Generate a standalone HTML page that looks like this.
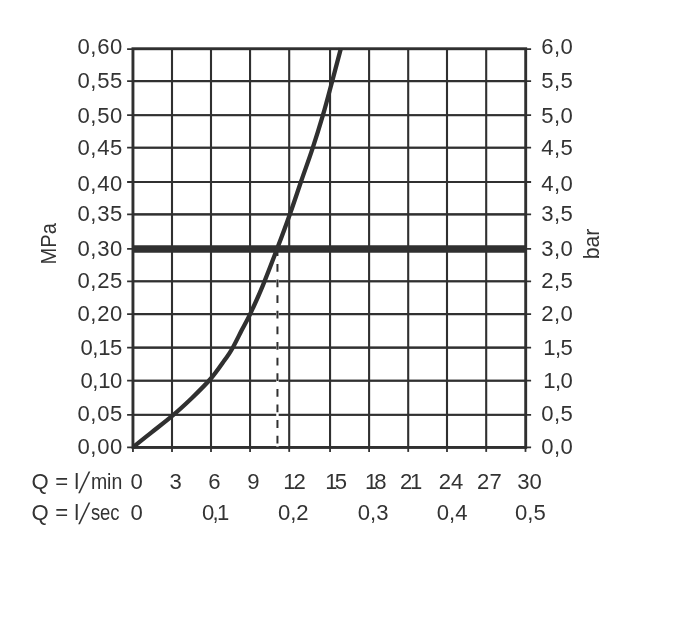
<!DOCTYPE html>
<html lang="de">
<head>
<meta charset="utf-8">
<title>Durchflussdiagramm</title>
<style>
html,body{margin:0;padding:0;background:#fff;}
body{width:693px;height:630px;overflow:hidden;}
svg{display:block;}
text{font-family:"Liberation Sans",Arial,Helvetica,sans-serif;font-size:22.1px;fill:#333333;}
</style>
</head>
<body>
<svg width="693" height="630" viewBox="0 0 693 630">
<rect x="0" y="0" width="693" height="630" fill="#ffffff"/>
<g stroke="#303030" fill="none" stroke-linecap="butt">
<line x1="172.00" y1="48.75" x2="172.00" y2="447.45" stroke-width="2.1"/>
<line x1="172.00" y1="447.45" x2="172.00" y2="451.9" stroke-width="1.8"/>
<line x1="211.00" y1="48.75" x2="211.00" y2="447.45" stroke-width="2.1"/>
<line x1="211.00" y1="447.45" x2="211.00" y2="451.9" stroke-width="1.8"/>
<line x1="250.05" y1="48.75" x2="250.05" y2="447.45" stroke-width="2.1"/>
<line x1="250.05" y1="447.45" x2="250.05" y2="451.9" stroke-width="1.8"/>
<line x1="289.20" y1="48.75" x2="289.20" y2="447.45" stroke-width="2.1"/>
<line x1="289.20" y1="447.45" x2="289.20" y2="451.9" stroke-width="1.8"/>
<line x1="330.05" y1="48.75" x2="330.05" y2="447.45" stroke-width="2.1"/>
<line x1="330.05" y1="447.45" x2="330.05" y2="451.9" stroke-width="1.8"/>
<line x1="369.10" y1="48.75" x2="369.10" y2="447.45" stroke-width="2.1"/>
<line x1="369.10" y1="447.45" x2="369.10" y2="451.9" stroke-width="1.8"/>
<line x1="408.20" y1="48.75" x2="408.20" y2="447.45" stroke-width="2.1"/>
<line x1="408.20" y1="447.45" x2="408.20" y2="451.9" stroke-width="1.8"/>
<line x1="447.00" y1="48.75" x2="447.00" y2="447.45" stroke-width="2.1"/>
<line x1="447.00" y1="447.45" x2="447.00" y2="451.9" stroke-width="1.8"/>
<line x1="486.20" y1="48.75" x2="486.20" y2="447.45" stroke-width="2.1"/>
<line x1="486.20" y1="447.45" x2="486.20" y2="451.9" stroke-width="1.8"/>
<line x1="132.95" y1="81.15" x2="525.70" y2="81.15" stroke-width="2.1"/>
<line x1="127.1" y1="81.15" x2="531.1" y2="81.15" stroke-width="1.8"/>
<line x1="132.95" y1="115.20" x2="525.70" y2="115.20" stroke-width="2.1"/>
<line x1="127.1" y1="115.20" x2="531.1" y2="115.20" stroke-width="1.8"/>
<line x1="132.95" y1="147.70" x2="525.70" y2="147.70" stroke-width="2.1"/>
<line x1="127.1" y1="147.70" x2="531.1" y2="147.70" stroke-width="1.8"/>
<line x1="132.95" y1="182.00" x2="525.70" y2="182.00" stroke-width="2.1"/>
<line x1="127.1" y1="182.00" x2="531.1" y2="182.00" stroke-width="1.8"/>
<line x1="132.95" y1="214.40" x2="525.70" y2="214.40" stroke-width="2.1"/>
<line x1="127.1" y1="214.40" x2="531.1" y2="214.40" stroke-width="1.8"/>
<line x1="132.95" y1="281.30" x2="525.70" y2="281.30" stroke-width="2.1"/>
<line x1="127.1" y1="281.30" x2="531.1" y2="281.30" stroke-width="1.8"/>
<line x1="132.95" y1="314.10" x2="525.70" y2="314.10" stroke-width="2.1"/>
<line x1="127.1" y1="314.10" x2="531.1" y2="314.10" stroke-width="1.8"/>
<line x1="132.95" y1="347.65" x2="525.70" y2="347.65" stroke-width="2.1"/>
<line x1="127.1" y1="347.65" x2="531.1" y2="347.65" stroke-width="1.8"/>
<line x1="132.95" y1="380.70" x2="525.70" y2="380.70" stroke-width="2.1"/>
<line x1="127.1" y1="380.70" x2="531.1" y2="380.70" stroke-width="1.8"/>
<line x1="132.95" y1="414.80" x2="525.70" y2="414.80" stroke-width="2.1"/>
<line x1="127.1" y1="414.80" x2="531.1" y2="414.80" stroke-width="1.8"/>
<rect x="132.95" y="48.75" width="392.75" height="398.70" stroke-width="2.9"/>
<line x1="127.1" y1="49.05" x2="531.1" y2="49.05" stroke-width="1.8"/>
<line x1="127.1" y1="447.35" x2="531.1" y2="447.35" stroke-width="1.8"/>
<line x1="132.95" y1="447.45" x2="132.95" y2="451.9" stroke-width="1.8"/>
<line x1="525.50" y1="447.45" x2="525.50" y2="451.9" stroke-width="1.8"/>
<line x1="127.1" y1="248.90" x2="531.1" y2="248.90" stroke-width="1.8"/>
<line x1="132.95" y1="248.90" x2="525.70" y2="248.90" stroke-width="7.5"/>
</g>
<line x1="277.45" y1="253" x2="277.45" y2="446.6" stroke="#ffffff" stroke-width="2.4"/>
<line x1="277.45" y1="248.3" x2="277.45" y2="446" stroke="#303030" stroke-width="2" stroke-dasharray="7.8 7.82"/>
<path d="M133.1 447.1 C136.1 444.7 144.8 437.8 151.3 432.6 C157.8 427.4 165.5 421.6 172.2 415.9 C178.9 410.2 185.2 404.4 191.7 398.2 C198.1 392.0 205.5 384.8 210.9 378.5 C216.3 372.2 220.9 365.3 224.3 360.5 C227.8 355.7 228.8 354.7 231.6 349.8 C234.4 344.9 238.2 337.1 241.3 331.0 C244.5 324.9 246.9 320.9 250.5 313.3 C254.1 305.7 258.4 296.4 262.8 285.6 C267.2 274.8 272.7 260.4 277.2 248.6 C281.7 236.8 285.7 226.1 289.6 215.0 C293.6 203.9 297.1 193.1 300.9 182.0 C304.7 170.9 308.8 159.8 312.5 148.6 C316.2 137.4 319.7 126.1 323.0 114.9 C326.3 103.7 329.2 92.3 332.2 81.2 C335.2 70.1 339.4 53.9 340.9 48.4" fill="none" stroke="#303030" stroke-width="4.3" stroke-linecap="butt" stroke-linejoin="round"/>
<g text-anchor="end">
<text x="122.4" y="54.0" textLength="45" lengthAdjust="spacing">0,60</text>
<text x="122.4" y="88.0" textLength="45" lengthAdjust="spacing">0,55</text>
<text x="122.4" y="123.4" textLength="45" lengthAdjust="spacing">0,50</text>
<text x="122.4" y="154.6" textLength="45" lengthAdjust="spacing">0,45</text>
<text x="122.4" y="190.9" textLength="45" lengthAdjust="spacing">0,40</text>
<text x="122.4" y="221.0" textLength="45" lengthAdjust="spacing">0,35</text>
<text x="122.4" y="256.3" textLength="45" lengthAdjust="spacing">0,30</text>
<text x="122.4" y="287.6" textLength="45" lengthAdjust="spacing">0,25</text>
<text x="122.4" y="320.9" textLength="45" lengthAdjust="spacing">0,20</text>
<text x="122.4" y="355.2" textLength="42.0" lengthAdjust="spacing">0,15</text>
<text x="122.4" y="388.0" textLength="42.0" lengthAdjust="spacing">0,10</text>
<text x="122.4" y="420.7" textLength="45" lengthAdjust="spacing">0,05</text>
<text x="122.4" y="454.3" textLength="45" lengthAdjust="spacing">0,00</text>
<text x="572.8" y="54.0" textLength="31.6" lengthAdjust="spacing">6,0</text>
<text x="572.8" y="88.0" textLength="31.6" lengthAdjust="spacing">5,5</text>
<text x="572.8" y="123.4" textLength="31.6" lengthAdjust="spacing">5,0</text>
<text x="572.8" y="154.6" textLength="31.6" lengthAdjust="spacing">4,5</text>
<text x="572.8" y="190.9" textLength="31.6" lengthAdjust="spacing">4,0</text>
<text x="572.8" y="221.0" textLength="31.6" lengthAdjust="spacing">3,5</text>
<text x="572.8" y="256.3" textLength="31.6" lengthAdjust="spacing">3,0</text>
<text x="572.8" y="287.6" textLength="31.6" lengthAdjust="spacing">2,5</text>
<text x="572.8" y="320.9" textLength="31.6" lengthAdjust="spacing">2,0</text>
<text x="572.8" y="355.2" textLength="29.6" lengthAdjust="spacing">1,5</text>
<text x="572.8" y="388.0" textLength="29.6" lengthAdjust="spacing">1,0</text>
<text x="572.8" y="420.7" textLength="31.6" lengthAdjust="spacing">0,5</text>
<text x="572.8" y="454.3" textLength="31.6" lengthAdjust="spacing">0,0</text>
</g>
<text transform="translate(55.8 264.4) rotate(-90)" textLength="41.3" lengthAdjust="spacingAndGlyphs">MPa</text>
<text transform="translate(598.8 259.2) rotate(-90)" textLength="30.6" lengthAdjust="spacingAndGlyphs">bar</text>
<text y="488.8"><tspan x="31.4">Q</tspan><tspan x="49"> = </tspan><tspan x="74.2">l</tspan></text>
<text transform="translate(78.3 493.1) skewX(-15.5) scale(1 1.34)">/</text>
<text x="90.9" y="488.8" textLength="31.4" lengthAdjust="spacingAndGlyphs">min</text>
<text y="520.0"><tspan x="31.4">Q</tspan><tspan x="49"> = </tspan><tspan x="74.2">l</tspan></text>
<text transform="translate(78.3 524.3) skewX(-15.5) scale(1 1.34)">/</text>
<text x="90.9" y="520.0" textLength="28.7" lengthAdjust="spacingAndGlyphs">sec</text>
<g text-anchor="middle">
<text x="136.6" y="488.8">0</text>
<text x="175.6" y="488.8">3</text>
<text x="214.4" y="488.8">6</text>
<text x="253.3" y="488.8">9</text>
<text x="294.6" y="488.8" textLength="22.6" lengthAdjust="spacing">12</text>
<text x="336.1" y="488.8" textLength="21.9" lengthAdjust="spacing">15</text>
<text x="375.8" y="488.8" textLength="21.6" lengthAdjust="spacing">18</text>
<text x="411.2" y="488.8" textLength="22.3" lengthAdjust="spacing">21</text>
<text x="451.1" y="488.8">24</text>
<text x="489.4" y="488.8">27</text>
<text x="529.5" y="488.8">30</text>
<text x="136.6" y="520.0">0</text>
<text x="215.6" y="520.0" textLength="27.4" lengthAdjust="spacing">0,1</text>
<text x="293.3" y="520.0">0,2</text>
<text x="373.1" y="520.0">0,3</text>
<text x="452.1" y="520.0">0,4</text>
<text x="530.4" y="520.0">0,5</text>
</g>
</svg>
</body>
</html>
